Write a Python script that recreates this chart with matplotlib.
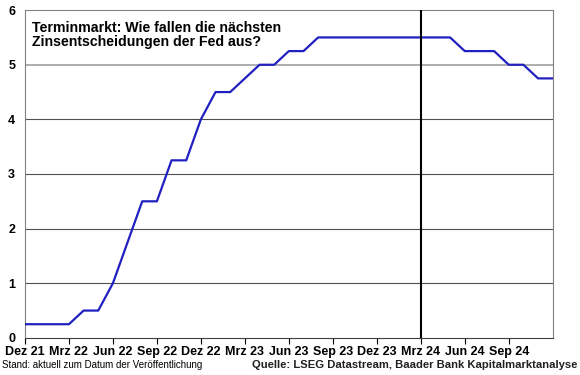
import matplotlib
matplotlib.use("Agg")
import matplotlib.pyplot as plt

# Monatswerte Dez 21 bis Dez 24 (oberes Ende des Leitzinsbandes, %)
months = [
    "Dez 21",
    "Jan 22", "Feb 22", "Mrz 22", "Apr 22", "Mai 22", "Jun 22",
    "Jul 22", "Aug 22", "Sep 22", "Okt 22", "Nov 22", "Dez 22",
    "Jan 23", "Feb 23", "Mrz 23", "Apr 23", "Mai 23", "Jun 23",
    "Jul 23", "Aug 23", "Sep 23", "Okt 23", "Nov 23", "Dez 23",
    "Jan 24", "Feb 24", "Mrz 24", "Apr 24", "Mai 24", "Jun 24",
    "Jul 24", "Aug 24", "Sep 24", "Okt 24", "Nov 24", "Dez 24",
]
fed_rate = [
    0.25,
    0.25, 0.25, 0.25, 0.5, 0.5, 1.0,
    1.75, 2.5, 2.5, 3.25, 3.25, 4.0,
    4.5, 4.5, 4.75, 5.0, 5.0, 5.25,
    5.25, 5.5, 5.5, 5.5, 5.5, 5.5,
    5.5, 5.5, 5.5, 5.5, 5.5, 5.25,
    5.25, 5.25, 5.0, 5.0, 4.75, 4.75,
]
tick_labels = ["Dez 21", "Mrz 22", "Jun 22", "Sep 22", "Dez 22", "Mrz 23",
               "Jun 23", "Sep 23", "Dez 23", "Mrz 24", "Jun 24", "Sep 24"]
today_label = "Mrz 24"

plt.rcParams["font.family"] = ["Liberation Sans", "DejaVu Sans"]

fig = plt.figure(figsize=(5.8, 3.75), dpi=100)
ax = fig.add_axes([0.043, 0.099, 0.91, 0.874])

x = list(range(len(months)))
ax.plot(x, fed_rate, color="#2020c0", lw=1.6, zorder=3)
ax.axvline(months.index(today_label), color="black", lw=1.5, zorder=4)

ax.set_xlim(0, len(months) - 1)
ax.set_ylim(0, 6)
ax.set_yticks(range(0, 7))
ax.set_yticklabels([str(v) for v in range(0, 7)], fontweight="bold", fontsize=9)
ax.set_xticks([months.index(t) for t in tick_labels])
ax.set_xticklabels(tick_labels, fontweight="bold", fontsize=9)
ax.tick_params(axis="y", length=0, pad=7)
ax.tick_params(axis="x", direction="out", length=4, width=0.8, pad=2)

for v in range(1, 6):
    if v == 5:
        ax.axhline(v, color="#a8a8a8", lw=1.3, zorder=1)
    else:
        ax.axhline(v, color="#505050", lw=0.8, zorder=1)

for side in ("top", "right", "left"):
    ax.spines[side].set_color("#808080")
    ax.spines[side].set_linewidth(0.8)
ax.spines["bottom"].set_color("#404040")

ax.text(0.013, 0.968, "Terminmarkt: Wie fallen die nächsten\nZinsentscheidungen der Fed aus?",
        transform=ax.transAxes, ha="left", va="top", fontsize=10.2,
        fontweight="bold", linespacing=1.08)

fig.text(0.004, 0.012, "Stand: aktuell zum Datum der Veröffentlichung",
         fontsize=7.0, ha="left", va="bottom",
         family=["Liberation Sans Narrow", "Liberation Sans", "DejaVu Sans"])
fig.text(0.995, 0.012, "Quelle: LSEG Datastream, Baader Bank Kapitalmarktanalyse",
         fontsize=8.1, ha="right", va="bottom", fontweight="bold", color="#202020")

fig.savefig("out.png", dpi=100)
